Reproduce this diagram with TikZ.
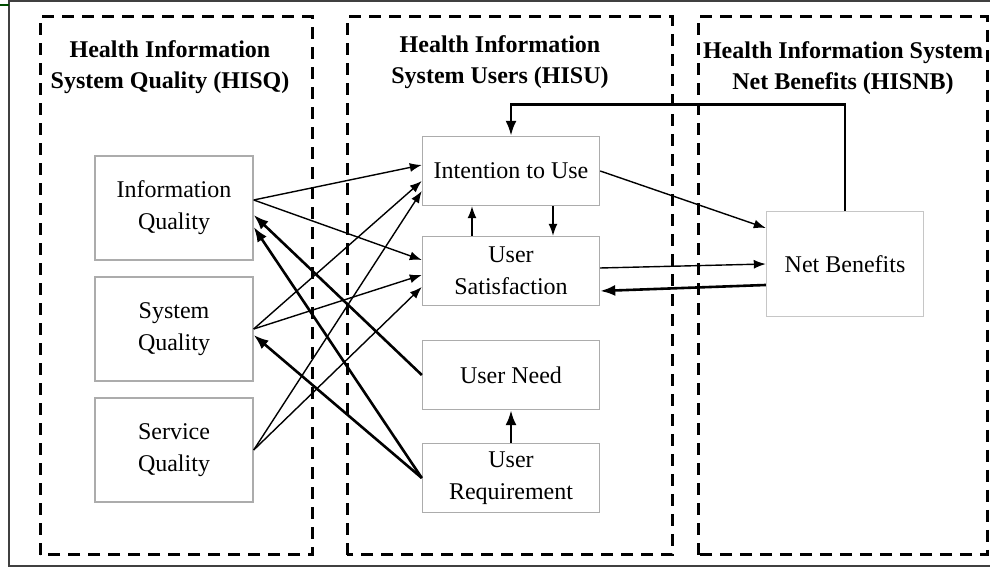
\documentclass[tikz,border=0pt]{standalone}
\usepackage{fontspec}
\setmainfont{Liberation Serif}
\usetikzlibrary{calc,arrows.meta}
\tikzset{
  block/.style={draw=gray!65, line width=0.7pt, minimum width=88.5pt, minimum height=34.5pt, align=center, inner sep=1pt},
  quality/.style={block, minimum width=79pt, minimum height=52pt},
  panel/.style={line width=1.5pt, dash pattern=on 6pt off 4pt},
  title/.style={font=\fontsize{12}{15.5}\selectfont\bfseries, align=center},
  link/.style={-{Latex[length=6pt,width=4.5pt]}, line width=0.7pt},
  back/.style={-{Latex[length=7.5pt,width=5.5pt]}, line width=1.3pt},
}

\begin{document}
\begin{tikzpicture}[x=0.5pt, y=0.5pt, font=\fontsize{12}{16}\selectfont]
  \useasboundingbox (0,0) rectangle (990,571);
  \draw[line width=1pt, black!75] (9,5) rectangle (1000,570);
  \draw[line width=1pt, green!30!black] (0,566) -- (9,566);

  % the three groups
  \draw[panel] (40,16) rectangle (312,554);
  \draw[panel] (347,16) rectangle (672,554);
  \draw[panel] (698,16) rectangle (987,554);
  \node[title] (hisq) at (170,504) {Health Information\\System Quality (HISQ)};
  \node[title] (hisu) at (500,509) {Health Information\\System Users (HISU)};
  \node[title] (hisnb) at (843,503) {Health Information System\\Net Benefits (HISNB)};

  % boxes
  \node[quality] (iq) at (174,363) {Information\\Quality};
  \node[quality] (sysq) at (174,242) {System\\Quality};
  \node[quality] (serq) at (174,121) {Service\\Quality};
  \node[block] (itu) at (511,400) {Intention to Use};
  \node[block] (us) at (511,300) {User\\Satisfaction};
  \node[block] (un) at (511,196) {User Need};
  \node[block] (ur) at (511,93) {User\\Requirement};
  \node[block, draw=gray!45, minimum width=78.5pt, minimum height=52.5pt] (nb) at (845,307) {Net Benefits};

  % quality -> use / satisfaction
  \draw[link] ($(iq.east)+(0,8)$) -- ($(itu.west)+(0,6)$);
  \draw[link] ($(iq.east)+(0,8)$) -- ($(us.west)+(0,11)$);
  \draw[link] (sysq.east) -- ($(itu.west)+(0,-10)$);
  \draw[link] (sysq.east) -- ($(us.west)+(0,-4)$);
  \draw[link] (serq.east) -- ($(itu.west)+(0,-20)$);
  \draw[link] (serq.east) -- ($(us.west)+(0,-16)$);
  % need / requirement -> quality
  \draw[back] (un.west) -- ($(iq.east)+(0,-7)$);
  \draw[back] (ur.west) -- ($(iq.east)+(0,-19)$);
  \draw[back] (ur.west) -- ($(sysq.east)+(0,-6)$);

  \draw[link] ($(us.north)+(-39,0)$) -- ($(itu.south)+(-39,0)$);
  \draw[link] ($(itu.south)+(42,0)$) -- ($(us.north)+(42,0)$);
  \draw[back] (ur) -- (un);

  % net benefits
  \draw[link] (itu.east) -- ($(nb.west)+(0,36)$);
  \draw[link] ($(us.east)+(0,3)$) -- (nb.west);
  \draw[back] ($(nb.west)+(0,-21)$) -- ($(us.east)+(0,-20)$);
  \draw[back] (nb.north) |- ($(itu.north)+(0,31)$) -- (itu.north);
\end{tikzpicture}
\end{document}
